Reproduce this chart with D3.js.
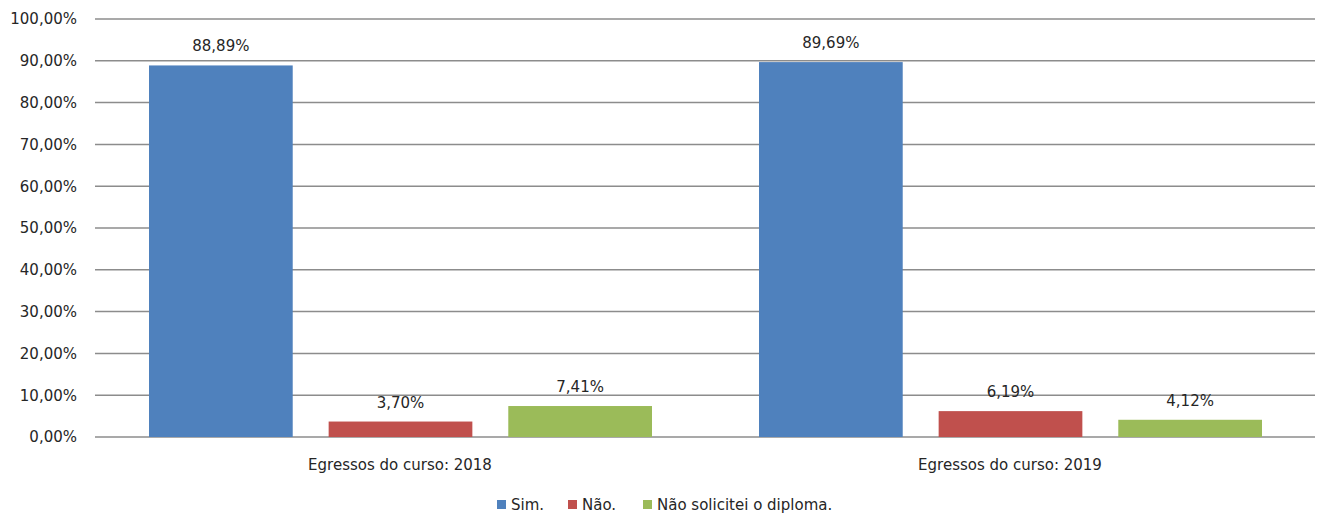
<!DOCTYPE html>
<html>
<head>
<meta charset="utf-8">
<script src="https://cdn.jsdelivr.net/npm/d3@7"></script>
<style>
  body { margin: 0; background: #fff; }
  text { font-family: "DejaVu Sans", sans-serif; fill: #262626; }
</style>
</head>
<body>
<div id="vis"></div>
<script>
// datos del grafico
const CATEGORIAS = ["Egressos do curso: 2018", "Egressos do curso: 2019"];
const SERIES = ["Sim.", "Não.", "Não solicitei o diploma."];
const VALORES = [
  [0.8889, 0.0370, 0.0741],
  [0.8969, 0.0619, 0.0412],
];
const TICKS = [0, 0.1, 0.2, 0.3, 0.4, 0.5, 0.6, 0.7, 0.8, 0.9, 1.0];
const COLORES = ["#4F81BD", "#C0504D", "#9BBB59"];

const WIDTH = 1331;
const HEIGHT = 519;
const PLOT = { left: 95, right: 1315, top: 19, bottom: 437 };
const FONT = "DejaVu Sans, sans-serif";

const SVG = d3.select("#vis").append("svg")
  .attr("width", WIDTH).attr("height", HEIGHT);

const fmt = (v) => (v * 100).toFixed(2).replace(".", ",") + "%";

const yScale = d3.scaleLinear().domain([0, 1]).range([PLOT.bottom, PLOT.top]);
const xScale = d3.scaleBand().domain(CATEGORIAS).range([PLOT.left, PLOT.right]);
const xInner = d3.scaleBand().domain(SERIES).range([54, 557]).paddingInner(0.2);
const color = d3.scaleOrdinal().domain(SERIES).range(COLORES);

// lineas de la grilla
SVG.append("g")
  .selectAll("line")
  .data(TICKS)
  .join("line")
  .attr("x1", PLOT.left).attr("x2", PLOT.right)
  .attr("y1", (d) => yScale(d)).attr("y2", (d) => yScale(d))
  .attr("stroke", "#8c8c8c")
  .attr("stroke-width", 1.5);

// eje Y
const yAxis = d3.axisLeft(yScale).tickValues(TICKS).tickFormat(fmt).tickSize(0).tickPadding(18);
const gy = SVG.append("g").attr("transform", `translate(${PLOT.left},0)`).call(yAxis);
gy.select(".domain").remove();
gy.selectAll("text").style("font-size", "15px").style("font-family", FONT).attr("fill", "#262626");

// barras
const grupos = SVG.append("g")
  .selectAll("g")
  .data(CATEGORIAS.map((c, i) => ({ cat: c, vals: SERIES.map((s, j) => ({ s, v: VALORES[i][j] })) })))
  .join("g")
  .attr("transform", (d) => `translate(${xScale(d.cat)},0)`);

grupos.selectAll("rect")
  .data((d) => d.vals)
  .join("rect")
  .attr("x", (d) => xInner(d.s))
  .attr("y", (d) => yScale(d.v))
  .attr("width", xInner.bandwidth())
  .attr("height", (d) => yScale(0) - yScale(d.v))
  .attr("fill", (d) => color(d.s));

grupos.selectAll("text.lbl")
  .data((d) => d.vals)
  .join("text")
  .attr("class", "lbl")
  .attr("x", (d) => xInner(d.s) + xInner.bandwidth() / 2)
  .attr("y", (d) => yScale(d.v) - 14)
  .attr("text-anchor", "middle")
  .style("font-size", "15px")
  .text((d) => fmt(d.v));

// etiquetas de categorias
SVG.append("g")
  .selectAll("text")
  .data(CATEGORIAS)
  .join("text")
  .attr("x", (d) => xScale(d) + xScale.bandwidth() / 2)
  .attr("y", 470)
  .attr("text-anchor", "middle")
  .style("font-size", "15px")
  .text((d) => d);

// leyenda
const legendX = [497, 568, 643];
const leg = SVG.append("g")
  .selectAll("g")
  .data(SERIES)
  .join("g")
  .attr("transform", (d, i) => `translate(${legendX[i]},500)`);
leg.append("rect").attr("x", 0).attr("y", 0).attr("width", 9).attr("height", 9).attr("fill", (d) => color(d));
leg.append("text").attr("x", 14).attr("y", 10).style("font-size", "15px").text((d) => d);
</script>
</body>
</html>
